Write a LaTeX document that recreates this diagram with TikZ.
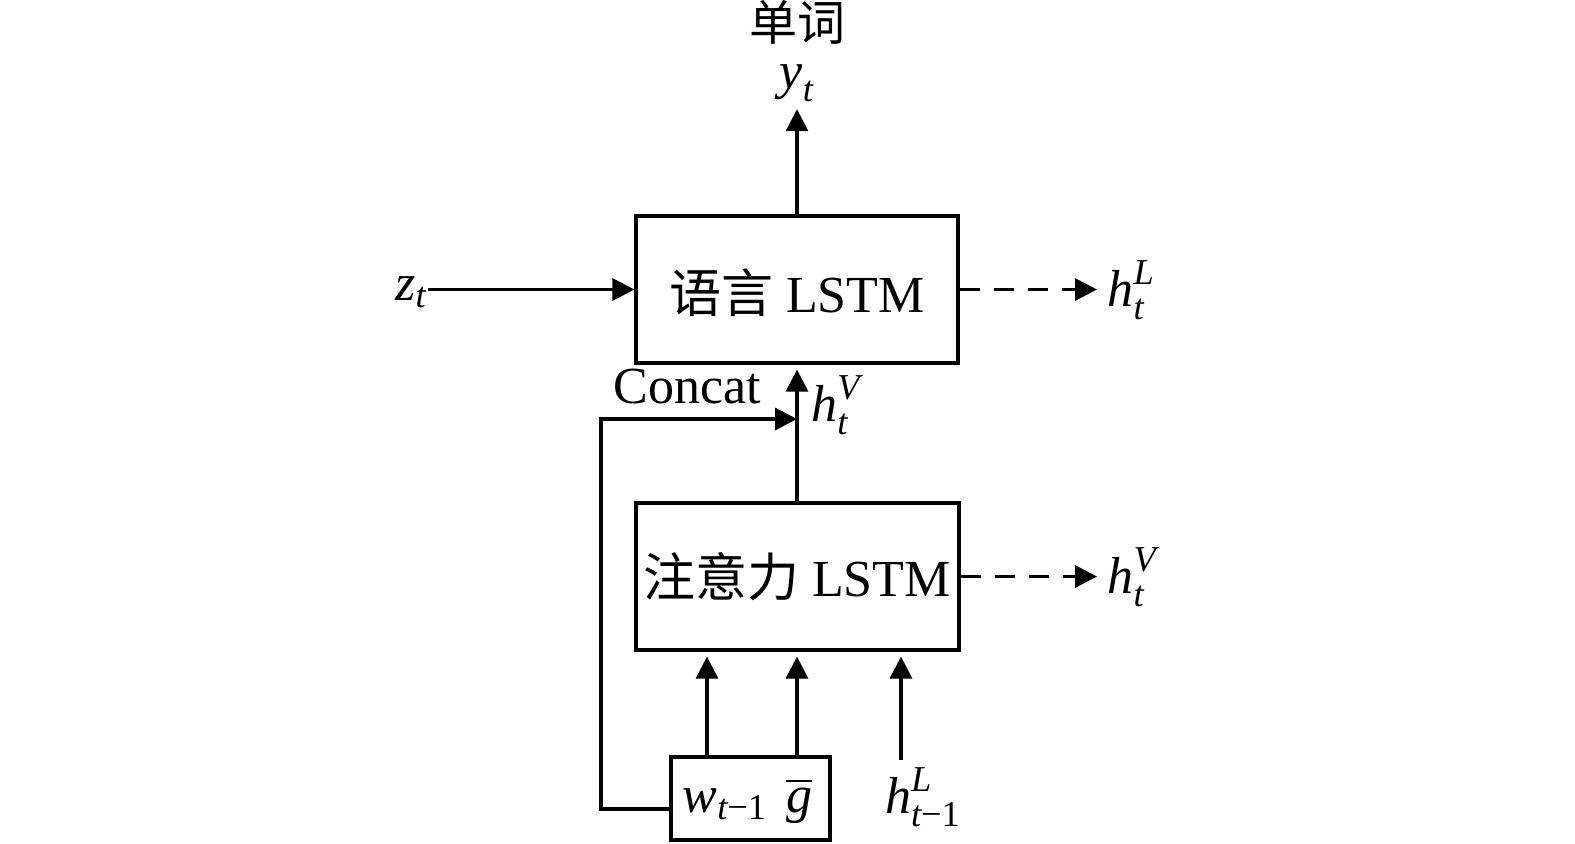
\documentclass[tikz,border=0pt]{standalone}
\usepackage{amsmath}
\usepackage{fontspec}
\setmainfont{Liberation Serif}
\newfontfamily\cjk{Noto Sans CJK SC}
\usetikzlibrary{arrows.meta}
\newcommand{\mi}[1]{\text{\itshape #1}}
\begin{document}
\begin{tikzpicture}[x=0.5pt,y=-0.5pt,line width=1.6pt,
  box/.style={draw,line width=1.6pt,inner sep=0pt},
  arr/.style={-{Triangle[length=11pt,width=11pt]}},
  dsh/.style={dash pattern=on 10pt off 7pt},
  lbl/.style={font=\fontsize{26}{30}\selectfont,inner sep=0pt}]
\useasboundingbox (0,0) rectangle (1575,843);
% boxes
\node[box,minimum width=161pt,minimum height=73.5pt] (lang) at (797,289.5) {};
\node[lbl] (langt) at (797,293) {{\cjk 语言} LSTM};
\node[box,minimum width=161.5pt,minimum height=73.5pt] (att) at (797.5,576.5) {};
\node[lbl] (attt) at (797,577) {{\cjk 注意力} LSTM};
\node[box,minimum width=79.5pt,minimum height=41.5pt] (inp) at (750.5,798.5) {};
\node[lbl,anchor=base west] (w) at (681,812) {$\mi{w}_{\mi{t}\text{−1}}$};
\node[lbl,anchor=base] (g) at (799,812) {$\overline{\mi{g}}$};
% labels
\node[lbl,font=\fontsize{24}{26}\cjk] (word) at (797,22) {单词};
\node[lbl] (yt) at (797,83) {$\mi{y}_{\mi{t}}$};
\node[lbl] (zt) at (411,292) {$\mi{z}_{\mi{t}}$};
\node[lbl,anchor=west] (hLo) at (1106,290) {$\mi{h}_{\mi{t}}^{\mi{L}}$};
\node[lbl,anchor=west] (hVo) at (1106,577) {$\mi{h}_{\mi{t}}^{\mi{V}}$};
\node[lbl] (hV) at (836,405) {$\mi{h}_{\mi{t}}^{\mi{V}}$};
\node[lbl] (concat) at (687,387) {Concat};
\node[lbl] (hL1) at (923,797) {$\mi{h}_{\mi{t}\text{−1}}^{\mi{L}}$};
% coordinates
\coordinate (join) at (797,419);
\coordinate (lp) at (601,809);
\coordinate (a1) at (707,757);
\coordinate (a2) at (797,757);
\coordinate (a3) at (901,760);
% connectors
\draw[arr,shorten >=3pt] (lang.north) -- (yt.south);
\draw[arr] (zt.east |- lang.west) -- (lang.west);
\draw[arr,dsh,shorten >=4.5pt] (lang.east) -- (lang.east -| hLo.west);
\draw[arr,dsh,shorten >=4.5pt] (att.east) -- (att.east -| hVo.west);
\draw[arr,shorten >=2.5pt] (att.north -| join) -- (lang.south -| join);
\draw[arr] (inp.west |- lp) -- (lp) |- (join);
\draw[arr,shorten >=2.5pt] (a1) -- (a1 |- att.south);
\draw[arr,shorten >=2.5pt] (a2) -- (a2 |- att.south);
\draw[arr,shorten >=2.5pt] (a3) -- (a3 |- att.south);
\end{tikzpicture}
\end{document}
